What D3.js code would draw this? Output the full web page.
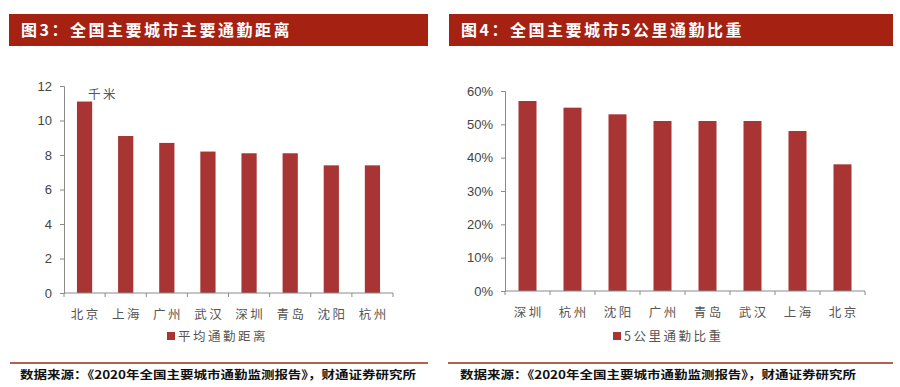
<!DOCTYPE html>
<html>
<head>
<meta charset="utf-8">
<script src="https://cdn.jsdelivr.net/npm/d3@7"></script>
<style>
  body { margin: 0; background: #fff; }
  svg { display: block; font-family: "Noto Sans CJK SC", "Noto Sans", sans-serif; }
  .tick-num { font-family: "Liberation Sans", Arial, sans-serif; font-size: 13px; fill: #444; }
  .cat { font-size: 12.5px; fill: #555; letter-spacing: 2.5px; }
  .legend { font-size: 12.5px; fill: #555; letter-spacing: 2.5px; }
  .title { font-size: 16px; font-weight: bold; fill: #fff; letter-spacing: 2.5px; }
  .source { font-size: 11.5px; font-weight: bold; fill: #111; }
</style>
</head>
<body>
<svg id="chart" width="900" height="387"></svg>
<script>
const distCities = ['北京', '上海', '广州', '武汉', '深圳', '青岛', '沈阳', '杭州'];
const distValues = [11.1, 9.1, 8.7, 8.2, 8.1, 8.1, 7.4, 7.4];
const distTicks = [0, 2, 4, 6, 8, 10, 12];

const shareCities = ['深圳', '杭州', '沈阳', '广州', '青岛', '武汉', '上海', '北京'];
const shareValues = [0.57, 0.55, 0.53, 0.51, 0.51, 0.51, 0.48, 0.38];
const shareTicks = [0, 0.1, 0.2, 0.3, 0.4, 0.5, 0.6];

const BAR = '#a83434';
const TITLE_BG = '#a52213';
const AXIS = '#8a8a8a';

const svg = d3.select('#chart');

function panel(opts) {
  const g = svg.append('g');

  // title bar
  g.append('rect')
    .attr('x', opts.titleX).attr('y', 14)
    .attr('width', opts.titleW).attr('height', 32)
    .attr('fill', TITLE_BG);
  g.append('text')
    .attr('class', 'title')
    .attr('x', opts.titleX + 12).attr('y', 36)
    .text(opts.title);

  const x = d3.scaleBand()
    .domain(opts.cities)
    .range(opts.xRange)
    .paddingInner(opts.pad)
    .paddingOuter(opts.pad / 2);

  const y = d3.scaleLinear().domain(opts.yDomain).range(opts.yRange);

  // y axis
  const yAxis = d3.axisLeft(y).tickValues(opts.ticks).tickSize(4).tickPadding(8)
    .tickFormat(opts.fmt);
  const ya = g.append('g')
    .attr('transform', `translate(${opts.xRange[0]},0)`)
    .call(yAxis);
  ya.select('.domain').attr('stroke', AXIS);
  ya.selectAll('.tick line').attr('stroke', AXIS);
  ya.selectAll('.tick text').attr('class', 'tick-num').attr('font-family', null).attr('font-size', null).attr('fill', null);

  // bars
  g.selectAll('rect.bar')
    .data(opts.values)
    .join('rect')
    .attr('class', 'bar')
    .attr('x', (d, i) => x(opts.cities[i]))
    .attr('width', x.bandwidth())
    .attr('y', (d) => y(d))
    .attr('height', (d) => y(0) - y(d))
    .attr('fill', BAR);

  // x axis line and boundary ticks
  const y0 = y(0);
  g.append('line')
    .attr('x1', opts.xRange[0]).attr('x2', opts.xRange[1])
    .attr('y1', y0).attr('y2', y0)
    .attr('stroke', AXIS);
  const bounds = d3.range(opts.cities.length + 1).map((i) => opts.xRange[0] + i * x.step());
  g.selectAll('line.bt')
    .data(bounds)
    .join('line')
    .attr('x1', (d) => d).attr('x2', (d) => d)
    .attr('y1', y0).attr('y2', y0 + 4)
    .attr('stroke', AXIS);

  g.selectAll('text.cat')
    .data(opts.cities)
    .join('text')
    .attr('class', 'cat')
    .attr('x', (d) => x(d) + x.bandwidth() / 2 + 1.2)
    .attr('y', opts.catY)
    .attr('text-anchor', 'middle')
    .text((d) => d);

  // legend
  g.append('rect')
    .attr('x', opts.legX).attr('y', 332)
    .attr('width', 8).attr('height', 8)
    .attr('fill', BAR);
  g.append('text')
    .attr('class', 'legend')
    .attr('x', opts.legX + 11).attr('y', 341)
    .text(opts.legend);

  // source
  g.append('line')
    .attr('x1', opts.lineX[0]).attr('x2', opts.lineX[1])
    .attr('y1', 363).attr('y2', 363)
    .attr('stroke', '#b4604d').attr('stroke-width', 2);
  g.append('text')
    .attr('class', 'source')
    .attr('x', opts.srcX).attr('y', 379)
    .attr('textLength', 396)
    .attr('lengthAdjust', 'spacingAndGlyphs')
    .text('数据来源：《2020年全国主要城市通勤监测报告》，财通证券研究所');

  return { g, x, y };
}

const left = panel({
  title: '图3：全国主要城市主要通勤距离',
  titleX: 9, titleW: 419,
  cities: distCities, values: distValues, ticks: distTicks,
  xRange: [64, 393], yDomain: [0, 12], yRange: [293, 86], pad: 0.63,
  fmt: d3.format('d'), catY: 319,
  legX: 167, legend: '平均通勤距离',
  lineX: [10, 428], srcX: 20,
});

left.g.append('text')
  .attr('class', 'cat')
  .attr('x', 88).attr('y', 99)
  .text('千米');

panel({
  title: '图4：全国主要城市5公里通勤比重',
  titleX: 449, titleW: 444,
  cities: shareCities, values: shareValues, ticks: shareTicks,
  xRange: [505, 865], yDomain: [0, 0.6], yRange: [291, 91], pad: 0.6,
  fmt: d3.format('.0%'), catY: 317,
  legX: 613, legend: '5公里通勤比重',
  lineX: [448, 893], srcX: 460,
});
</script>
</body>
</html>
